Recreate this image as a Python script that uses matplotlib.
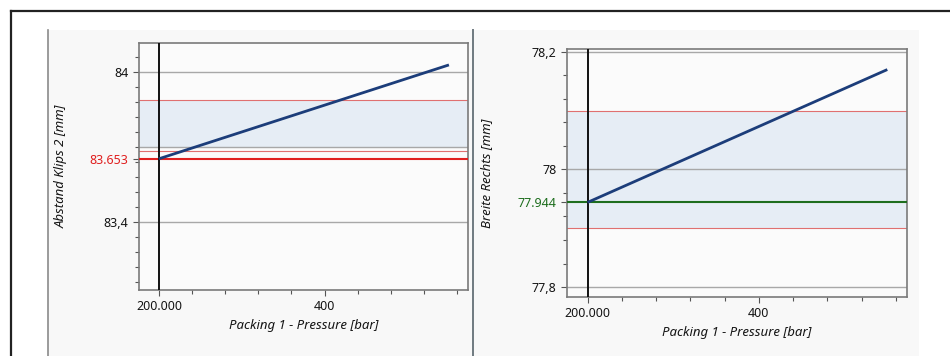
import matplotlib
matplotlib.use("Agg")
import matplotlib.pyplot as plt
from matplotlib.ticker import FixedLocator, MultipleLocator
from matplotlib.patches import Rectangle
from matplotlib.lines import Line2D

# data
pressure = [200, 550]
y_labels = ["Abstand Klips 2 [mm]", "Breite Rechts [mm]"]
x_label = "Packing 1 - Pressure [bar]"
response_left = [83.653, 84.03]
response_right = [77.944, 78.17]
nominal = [83.653, 77.944]
nominal_text = ["83.653", "77.944"]
nominal_color = ["#e02020", "#1e6e1e"]
major_ticks = [[83.4, 84.0], [77.8, 78.0, 78.2]]
major_text = [["83,4", "84"], ["77,8", "78", "78,2"]]
band_low = [83.70, 77.90]
band_high = [83.889, 78.10]
limit_low = [83.685, 77.90]
limit_high = [83.889, 78.10]
ylims = [(83.126, 84.118), (77.783, 78.205)]
xlim = (176, 573)
minor_step = [0.06, 0.04]

W, H = 950, 356
fig = plt.figure(figsize=(W / 100, H / 100), dpi=100)
plt.rcParams['font.family'] = ['Noto Sans', 'DejaVu Sans']

def fx(px):
    return px / W

def fy(py):
    return 1 - py / H

# outer frame and panel backgrounds (behind the axes)
fig.add_artist(Line2D([fx(11), 1], [fy(11), fy(11)], color="#222222", lw=1.6, zorder=-5))
fig.add_artist(Line2D([fx(11), fx(11)], [fy(11), 0], color="#222222", lw=1.6, zorder=-5))
fig.add_artist(Rectangle((fx(48), 0), fx(473 - 48), fy(30), facecolor="#f8f8f8",
                         edgecolor="none", zorder=-10))
fig.add_artist(Rectangle((fx(474), 0), fx(919 - 474), fy(30), facecolor="#f8f8f8",
                         edgecolor="none", zorder=-10))
fig.add_artist(Line2D([fx(48), fx(48)], [fy(30), 0], color="#8a8a8a", lw=1.2, zorder=-5))
fig.add_artist(Line2D([fx(473), fx(473)], [fy(30), 0], color="#6f7a80", lw=1.4, zorder=-5))

boxes = [(139, 43, 468, 290), (567, 49, 907, 297)]
responses = [response_left, response_right]
label_x = [68, 493]

for i in range(2):
    l, t, r, b = boxes[i]
    ax = fig.add_axes([fx(l), fy(b), fx(r - l), (b - t) / H])
    ax.set_facecolor("#fbfbfb")
    ax.set_xlim(*xlim)
    ax.set_ylim(*ylims[i])

    ax.axhspan(band_low[i], band_high[i], facecolor="#e6edf5", edgecolor="none", zorder=1)
    for v in major_ticks[i]:
        ax.axhline(v, color="#a8a8a8", lw=1.0, zorder=2)
    if i == 0:
        ax.axhline(band_low[i], color="#a8a8a8", lw=1.0, zorder=2)
    ax.axhline(limit_low[i], color="#e07070", lw=0.8, zorder=2)
    ax.axhline(limit_high[i], color="#e07070", lw=0.8, zorder=2)
    ax.axhline(nominal[i], color=nominal_color[i], lw=1.5, zorder=3)
    ax.axvline(pressure[0], color="#111111", lw=1.4, zorder=4)
    ax.plot(pressure, responses[i], color="#1c3d7a", lw=2.0, zorder=5,
            solid_capstyle="butt")

    ticks = major_ticks[i] + [nominal[i]]
    texts = major_text[i] + [nominal_text[i]]
    ax.yaxis.set_major_locator(FixedLocator(ticks))
    ax.set_yticklabels(texts)
    ax.yaxis.set_minor_locator(MultipleLocator(minor_step[i]))

    ax.xaxis.set_major_locator(FixedLocator([200, 400]))
    ax.set_xticklabels(["200.000", "400"])
    ax.xaxis.set_minor_locator(MultipleLocator(40))

    ax.tick_params(which="both", direction="out", color="#555555", labelsize=9,
                   labelcolor="#151515")
    ax.tick_params(which="major", length=4, width=0.8)
    ax.tick_params(which="minor", length=3, width=0.8)
    ax.get_yticklabels()[-1].set_color(nominal_color[i])
    for s in ax.spines.values():
        s.set_color("#7a7a7a")
        s.set_linewidth(1.2)

    ax.set_xlabel(x_label, fontsize=9.5, style="italic", color="#151515", labelpad=4)
    ax.set_ylabel(y_labels[i], fontsize=9.5, style="italic", color="#151515")
    ax.yaxis.set_label_coords((label_x[i] - l) / (r - l), 0.5)

fig.savefig("out.png", dpi=100)
